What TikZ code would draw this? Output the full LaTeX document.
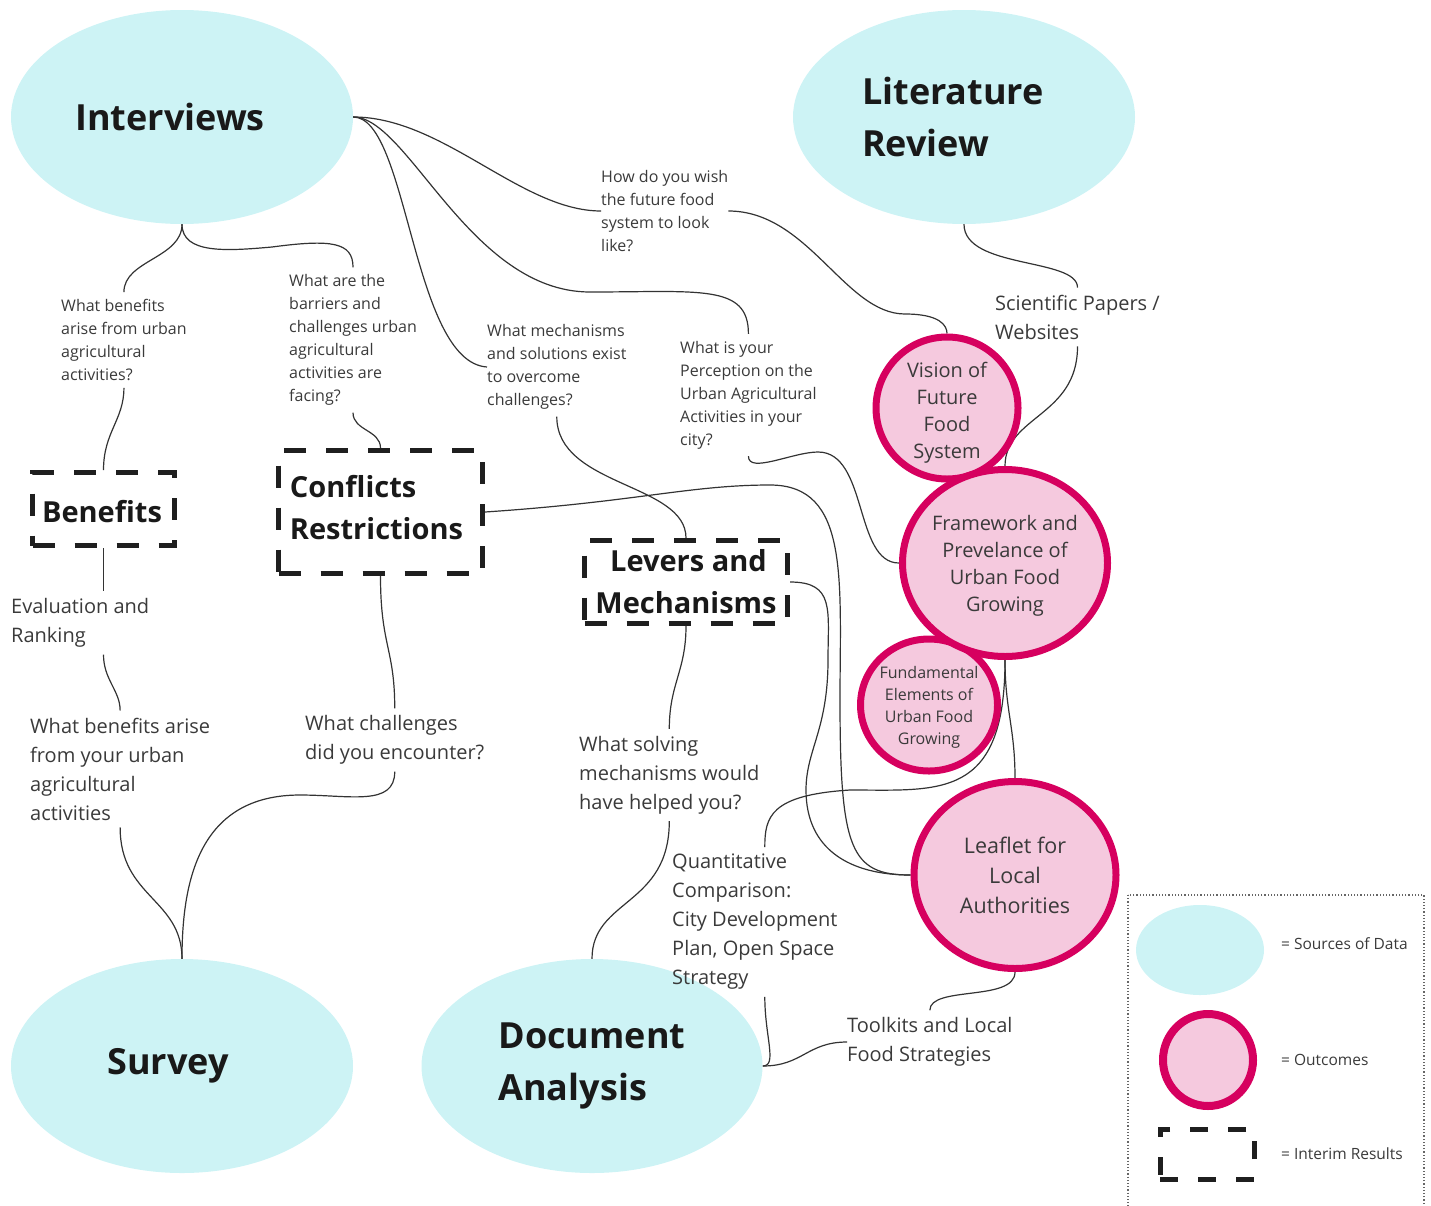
\documentclass[tikz,border=0pt]{standalone}
\usepackage{fontspec}
\setmainfont{Open Sans}
\usetikzlibrary{positioning,shapes.geometric,backgrounds}
\definecolor{cyanfill}{HTML}{CDF3F5}
\definecolor{pinkfill}{HTML}{F5C9DE}
\definecolor{magline}{HTML}{D6005F}
\definecolor{txtgray}{HTML}{3A3A3A}
\begin{document}
\begin{tikzpicture}[x=1pt,y=-1pt,
  src/.style={ellipse,fill=cyanfill,font=\fontsize{36}{52}\selectfont\bfseries,text=black!90,align=left,inner sep=0pt},
  outc/.style={ellipse,fill=pinkfill,draw=magline,line width=7pt,align=center,text=txtgray,inner sep=-20pt},
  interim/.style={draw=black!88,line width=5pt,dash pattern=on 22pt off 20pt,font=\fontsize{29}{42}\selectfont\bfseries,text=black!90,inner sep=0pt},
  qs/.style={anchor=west,align=left,text=txtgray,font=\fontsize{16}{23}\selectfont,inner xsep=0pt,inner ysep=7pt},
  ql/.style={anchor=west,align=left,text=txtgray,font=\fontsize{20}{29}\selectfont,inner xsep=0pt,inner ysep=7pt},
  lg/.style={text=txtgray,font=\fontsize{15.5}{18}\selectfont,inner sep=0pt},
  link/.style={draw=black!80,line width=1.2pt}]
     \useasboundingbox (0,0) rectangle (1431,1205);

     \node[src,minimum width=342pt,minimum height=214pt] (intv) at (182,117) {Interviews\hspace*{24pt}};
     \node[src,minimum width=342pt,minimum height=214pt] (lit) at (964,117) {Literature\hspace*{22pt}\\Review};
     \node[src,minimum width=342pt,minimum height=214pt] (surv) at (182,1066) {Survey\hspace*{28pt}};
     \node[src,minimum width=341pt,minimum height=214pt] (doc) at (592,1066) {Document\\Analysis};

     \node[outc,minimum width=142pt,minimum height=142pt,font=\fontsize{20}{27}\selectfont] (vis) at (947,408) {\rule{0pt}{25pt}Vision of\\Future\\Food\\System};
     \node[outc,minimum width=137pt,minimum height=132pt,font=\fontsize{16}{22}\selectfont] (fund) at (929,705) {\rule{0pt}{16pt}Fundamental\\Elements of\\Urban Food\\Growing};
     \node[outc,minimum width=205pt,minimum height=187pt,font=\fontsize{20}{27}\selectfont] (frame) at (1005,563) {\rule{0pt}{20pt}Framework and\\Prevelance of\\Urban Food\\Growing};
     \node[outc,minimum width=202pt,minimum height=187pt,font=\fontsize{21.5}{30}\selectfont] (leaf) at (1015,875) {Leaflet for\\Local\\Authorities};

     \node[interim,minimum width=142pt,minimum height=73pt] (ben) at (103.5,509) {\rule{0pt}{28pt}Benefits\hspace*{3pt}};
     \node[interim,minimum width=204pt,minimum height=123pt,align=left] (conf) at (380.5,512) {Conflicts\\Restrictions\hspace*{8pt}\rule[-9pt]{0pt}{9pt}};
     \node[interim,minimum width=203pt,minimum height=83pt,align=center] (lev) at (686,582) {\,Levers and\\Mechanisms};

     \node[qs] (qwish) at (601,211) {How do you wish\\the future food\\system to look\\like?};
     \node[qs] (qben) at (61,340) {What benefits\\arise from urban\\agricultural\\activities?};
     \node[qs] (qbar) at (289,340) {What are the\\barriers and\\challenges urban\\agricultural\\activities are\\facing?};
     \node[qs] (qmech) at (487,367) {What mechanisms\\and solutions exist\\to overcome\\challenges?};
     \node[qs] (qperc) at (680,395) {What is your\\Perception on the\\Urban Agricultural\\Activities in your\\city?};

     \node[ql] (sci) at (995,317) {Scientific Papers /\\Websites};
     \node[ql] (eval) at (11,623) {Evaluation and\\Ranking};
     \node[ql] (qben2) at (30,769) {What benefits arise\\from your urban\\agricultural\\activities};
     \node[ql] (qchal) at (305,740) {What challenges\\did you encounter?};
     \node[ql] (qsolv) at (579,775) {What solving\\mechanisms would\\have helped you?};
     \node[ql] (quant) at (672,922) {Quantitative\\Comparison:\\City Development\\Plan, Open Space\\Strategy};
     \node[ql] (tool) at (847,1042) {Toolkits and Local\\Food Strategies};

     \draw[dotted,black!60,line width=1.2pt] (1128,895) rectangle (1424,1215);
     \node[src,minimum width=128pt,minimum height=90pt] (lsrc) at (1200,950) {};
     \node[outc,line width=8pt,minimum width=90pt,minimum height=92pt] (lout) at (1208,1060) {};
     \node[interim,line width=5pt,dash pattern=on 18pt off 20pt,minimum width=94pt,minimum height=50pt] (lint) at (1207,1154) {};
     \node[lg,anchor=west] (tsrc) at (1281,944) {= Sources of Data};
     \node[lg,anchor=west] (tout) at (1281,1060) {= Outcomes};
     \node[lg,anchor=west] (tint) at (1281,1154) {= Interim Results};

     \begin{pgfonlayer}{background}
     \draw[link] (intv.south) .. controls +(0,34) and +(0,-32) .. (qben.north);
     \draw[link] (intv.south) .. controls +(0,30) and +(-45,4) .. (272,247) .. controls +(60,-8) and +(0,-25) .. (qbar.north);
     \draw[link] (qben.south) .. controls +(0,32) and +(0,-38) .. (ben.north);
     \draw[link] (qbar.south) .. controls +(0,18) and +(0,-18) .. (conf.north);
     \draw[link] (intv.east) .. controls +(90,0) and +(-80,0) .. (qwish.west);
     \draw[link] (intv.east) .. controls +(55,0) and +(-75,-5) .. (qmech.west);
     \draw[link] (intv.east) .. controls +(55,0) and +(-120,0) .. (590,292) .. controls +(110,0) and +(0,-50) .. (qperc.north);
     \draw[link] (qwish.east) .. controls +(80,0) and +(-60,0) .. (905,314) .. controls +(35,0) and +(0,-8) .. (vis.north);
     \draw[link] (qperc.south) .. controls +(0,18) and +(-25,0) .. (818,452) .. controls +(50,0) and +(-45,0) .. (frame.west);
     \draw[link] (qmech.south) .. controls +(0,70) and +(0,-55) .. (lev.north);
     \draw[link] (conf.east) .. controls +(150,-10) and +(-80,0) .. (770,485) .. controls +(80,0) and +(0,-120) .. (840,700) .. controls +(0,150) and +(-60,0) .. (leaf.west);
     \draw[link] (lev.east) .. controls +(45,0) and +(0,-50) .. (828,660) .. controls +(0,70) and +(0,-40) .. (806,790) .. controls +(0,60) and +(-60,0) .. (leaf.west);
     \draw[link] (lev.south) .. controls +(0,45) and +(0,-45) .. (qsolv.north);
     \draw[link] (qsolv.south) .. controls +(0,85) and +(0,-60) .. (doc.north);
     \draw[link] (lit.south) .. controls +(0,45) and +(0,-30) .. (sci.north);
     \draw[link] (sci.south) .. controls +(0,70) and +(0,-50) .. (frame.north);
     \draw[link] (frame.south) .. controls +(0,50) and +(0,-50) .. (leaf.north);
     \draw[link] (frame.south) .. controls +(0,140) and +(90,0) .. (850,790) .. controls +(-80,5) and +(0,-30) .. ([xshift=10pt]quant.north);
     \draw[link] ([xshift=10pt]quant.south) .. controls +(0,40) and +(15,0) .. (doc.east);
     \draw[link] (tool.west) .. controls +(-40,0) and +(40,0) .. (doc.east);
     \draw[link] (leaf.south) .. controls +(0,30) and +(0,-25) .. (tool.north);
     \draw[link] (ben.south) -- (ben.south |- eval.north);
     \draw[link] (ben.south |- eval.south) .. controls +(0,25) and +(0,-20) .. (qben2.north);
     \draw[link] (conf.south) .. controls +(0,70) and +(0,-60) .. (qchal.north);
     \draw[link] (qben2.south) .. controls +(0,70) and +(0,-60) .. (surv.north);
     \draw[link] (qchal.south) .. controls +(0,35) and +(50,0) .. (300,795) .. controls +(-100,0) and +(0,-80) .. (surv.north);
     \end{pgfonlayer}
\end{tikzpicture}
\end{document}
